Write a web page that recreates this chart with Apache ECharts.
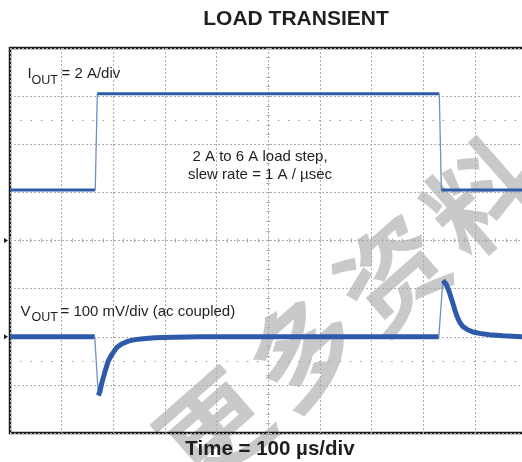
<!DOCTYPE html>
<html>
<head>
<meta charset="utf-8">
<script src="https://cdn.jsdelivr.net/npm/echarts@6/dist/echarts.min.js"></script>
<style>
  html, body { margin: 0; padding: 0; background: #fff; }
  #chart { width: 522px; height: 462px; }
</style>
</head>
<body>
<div id="chart"></div>
<script>
// Scope graticule: 10 horizontal divisions of 100 µs, 8 vertical divisions
const timeMin = 0, timeMax = 1000, timePerDiv = 100;        // µs
const voutMin = -200, voutMax = 600, voutPerDiv = 100;      // mV (ac coupled)
const ioutMin = -8.1, ioutMax = 7.9;                        // A, 2 A/div

// I_OUT trace: 2 A -> 6 A load step, then back to 2 A
const ioutLowBefore = [[0, 2], [165, 2]];
const ioutHigh = [[169, 6], [831, 6]];
const ioutLowAfter = [[835, 2], [1000, 2]];

// V_OUT trace, deviation from nominal (mV)
const voutBefore = [[0, 0], [164, 0]];
const voutUndershoot = [
  [171, -122], [174, -114], [177, -99], [184, -72], [190, -51], [197, -37],
  [206, -23], [216, -15], [229, -9], [242, -6], [258, -4], [280, -2],
  [319, -1], [368, 0], [830, 0]
];
const voutOvershoot = [
  [838, 117], [845, 108], [851, 91], [856, 74], [861, 56], [865, 43],
  [871, 29], [877, 21], [885, 15], [896, 10], [909, 7], [928, 4],
  [954, 2], [990, 0], [1000, 0]
];

// dotted cursor levels (mV)
const cursorLevels = [450, -50];

const traceBlue = '#2d5ba9';
const edgeBlue = '#6f8fca';
const gridGrey = '#adadad';
const textColor = '#1f1f1f';
const sans = '"Liberation Sans", Arial, sans-serif';

function trace(data, yAxisIndex, width, color) {
  return {
    type: 'line', data: data, xAxisIndex: 0, yAxisIndex: yAxisIndex,
    showSymbol: false, symbol: 'none', silent: true,
    lineStyle: { width: width, color: color },
    z: 3
  };
}
function edge(a, b, yAxisIndex) {
  return trace([a[a.length - 1], b[0]], yAxisIndex, 1.3, edgeBlue);
}

const centerX = { type: 'value', min: timeMin, max: timeMax, interval: timePerDiv,
  position: 'bottom', offset: -192.5,
  axisLine: { show: false }, axisLabel: { show: false },
  axisTick: { show: true, length: 2, lineStyle: { color: gridGrey } },
  minorTick: { show: true, splitNumber: 5, length: 2, lineStyle: { color: gridGrey } },
  splitLine: { show: true, lineStyle: { color: gridGrey, width: 1, type: [2, 2] } }
};
const centerY = { type: 'value', min: voutMin, max: voutMax, interval: voutPerDiv,
  position: 'left', offset: -258.3,
  axisLine: { show: false }, axisLabel: { show: false },
  axisTick: { show: true, length: 2, lineStyle: { color: gridGrey } },
  minorTick: { show: true, splitNumber: 5, length: 2, lineStyle: { color: gridGrey } },
  splitLine: { show: true, lineStyle: { color: gridGrey, width: 1, type: [2, 2] } }
};

function textEl(x, y, text, font, align, z) {
  return {
    type: 'text', x: x, y: y, z: z || 10, silent: true,
    style: { text: text, font: font, fill: textColor,
      align: align, textAlign: align, verticalAlign: 'middle', textVerticalAlign: 'middle' }
  };
}

// watermark characters along a diagonal
const markChars = ['更', '多', '资', '料'];
const watermark = markChars.map(function (ch, i) {
  return {
    type: 'text', x: 214 + i * 89, y: 428 - i * 77, z: -1, silent: true,
    rotation: 0.72,
    style: { text: ch, font: 'bold 106px "Noto Sans CJK SC", sans-serif', fill: '#c9c9c9',
      align: 'center', textAlign: 'center', verticalAlign: 'middle', textVerticalAlign: 'middle' }
  };
});

const labels = [
  textEl(296, 19.5, 'LOAD TRANSIENT', 'bold 21px ' + sans, 'center'),
  textEl(27.5, 73.8, 'I', '15px ' + sans, 'left'),
  textEl(31.5, 80.5, 'OUT', '12.5px ' + sans, 'left'),
  textEl(61.5, 73.8, '= 2 A/div', '15px ' + sans, 'left'),
  textEl(260, 157.3, '2 A to 6 A load step,', '15px ' + sans, 'center'),
  textEl(260, 174.8, 'slew rate = 1 A / µsec', '15px ' + sans, 'center'),
  textEl(20.5, 311.5, 'V', '15px ' + sans, 'left'),
  textEl(31.5, 318, 'OUT', '12.5px ' + sans, 'left'),
  textEl(60.5, 311.5, '= 100 mV/div (ac coupled)', '15px ' + sans, 'left'),
  textEl(270, 449.5, 'Time = 100 µs/div', 'bold 20.5px ' + sans, 'center')
];

const chart = echarts.init(document.getElementById('chart'), null, { renderer: 'canvas' });

const option = {
  animation: false,
  backgroundColor: '#ffffff',
  grid: { left: 10, top: 48, width: 516.6, bottom: 29, show: true,
    outerBoundsMode: 'none', containLabel: false,
    borderColor: '#1c1c1c', borderWidth: 2.5, backgroundColor: 'transparent' },
  xAxis: [
    centerX,
    Object.assign({}, centerX, {
      axisTick: { show: true, inside: true, length: 2, lineStyle: { color: gridGrey } },
      splitLine: { show: false } })
  ],
  yAxis: [
    centerY,
    { type: 'value', min: ioutMin, max: ioutMax, show: false, splitLine: { show: false } },
    Object.assign({}, centerY, {
      axisTick: { show: true, inside: true, length: 2, lineStyle: { color: gridGrey } },
      splitLine: { show: false } })
  ],
  series: [
    Object.assign(trace([], 0, 1, gridGrey), {
      markLine: {
        silent: true, symbol: 'none', label: { show: false },
        lineStyle: { color: '#9a9a9a', width: 1, type: [1.5, 8.8] },
        data: cursorLevels.map(function (v) { return { yAxis: v }; })
      }
    }),
    trace(ioutLowBefore, 1, 3, traceBlue),
    edge(ioutLowBefore, ioutHigh, 1),
    trace(ioutHigh, 1, 3, traceBlue),
    edge(ioutHigh, ioutLowAfter, 1),
    trace(ioutLowAfter, 1, 3, traceBlue),
    trace(voutBefore, 0, 5, traceBlue),
    edge(voutBefore, voutUndershoot, 0),
    trace(voutUndershoot, 0, 5, traceBlue),
    edge(voutUndershoot, voutOvershoot, 0),
    trace(voutOvershoot, 0, 5, traceBlue)
  ],
  graphic: { elements: watermark.concat(labels) }
};
chart.setOption(option);

// channel ground markers on the left edge
const markerLevels = [200, 0];
const markers = markerLevels.map(function (v) {
  const y = chart.convertToPixel({ yAxisIndex: 0 }, v);
  return { type: 'polygon', z: 10, silent: true,
    shape: { points: [[4, y - 2.5], [8, y], [4, y + 2.5]] },
    style: { fill: '#1c1c1c' } };
});
chart.setOption({ graphic: { elements: watermark.concat(labels, markers) } });
</script>
</body>
</html>
